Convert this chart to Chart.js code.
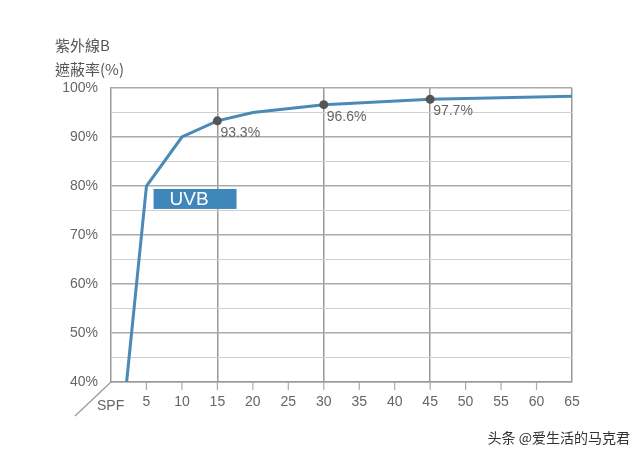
<!DOCTYPE html>
<html><head><meta charset="utf-8">
<script src="https://cdn.jsdelivr.net/npm/chart.js@4"></script>
<style>html,body{margin:0;padding:0;background:#fff}#w{width:640px;height:461px}</style>
</head><body><div id="w"><canvas id="c"></canvas></div>
<script>
const spf = [2.2, 5, 10, 15, 20, 30, 45, 65];
const uvb = [40, 80, 90, 93.3, 95, 96.6, 97.7, 98.3];
const marked = [15, 30, 45];
const markedLabels = ['93.3%', '96.6%', '97.7%'];
const font = '"Liberation Sans", Arial, sans-serif';
const deco = {
  id:'deco',
  beforeDatasetsDraw(ch){
    const c=ch.ctx, x=ch.scales.x, y=ch.scales.y;
    c.save();c.strokeStyle='#aaa';c.lineWidth=1.2;
    for(let v=5;v<65;v+=5){const px=x.getPixelForValue(v);c.beginPath();c.moveTo(px,y.bottom);c.lineTo(px,y.bottom+8);c.stroke();}
    c.restore();
  },
  afterDatasetsDraw(ch){
    const c=ch.ctx, x=ch.scales.x, y=ch.scales.y;
    c.save();
    marked.forEach((m,i)=>{
      const v=uvb[spf.indexOf(m)];
      const px=x.getPixelForValue(m), py=y.getPixelForValue(v);
      c.fillStyle='#555';c.beginPath();c.arc(px,py,4.5,0,Math.PI*2);c.fill();
      c.fillStyle='#666';c.font='14px '+font;c.textAlign='left';c.textBaseline='top';
      c.fillText(markedLabels[i],px+3,py+5);
    });
    const bx=x.getPixelForValue(6), by=y.getPixelForValue(79.4);
    c.fillStyle='#3f86bb';c.fillRect(bx,by,83,20);
    c.fillStyle='#fff';c.font='19px '+font;c.textBaseline='middle';c.textAlign='left';
    c.fillText('UVB',bx+16,by+11);
    c.strokeStyle='#999';c.lineWidth=1.2;c.beginPath();
    c.moveTo(x.left,y.bottom);c.lineTo(75,416);c.stroke();
    c.fillStyle='#666';c.font='14px '+font;c.textAlign='left';c.textBaseline='middle';
    c.fillText('SPF',97,406);
    c.fillStyle='#555';c.font='15px "Noto Sans CJK TC", sans-serif';c.textBaseline='middle';
    c.fillText('紫外線B',55,45);c.fillText('遮蔽率(%)',55,69);
    c.fillStyle='#333';c.font='14px "Noto Sans CJK SC", sans-serif';c.textAlign='right';
    c.fillText('头条 @爱生活的马克君',630,438);
    c.restore();
  }
};
const major = v => v===15||v===30||v===45||v===65;
new Chart(document.getElementById('c'),{
  type:'line',
  data:{datasets:[{data:spf.map((s,i)=>({x:s,y:uvb[i]})),borderColor:'#4a8ab5',borderWidth:3,pointRadius:0,tension:0,fill:false}]},
  options:{responsive:true,maintainAspectRatio:false,animation:false,
    layout:{padding:{top:88,right:68,left:0,bottom:0}},
    plugins:{legend:{display:false},tooltip:{enabled:false}},
    scales:{
      x:{type:'linear',min:0,max:65,afterFit(s){s.height=79;},
        ticks:{stepSize:5,color:'#666',font:{size:14,family:font},padding:12,callback:v=>v===0?'':v},
        grid:{color:c=>major(c.tick&&c.tick.value)?'#999':'rgba(0,0,0,0)',lineWidth:1.5,drawTicks:false},
        border:{color:'#999',width:1.5}},
      y:{min:40,max:100,afterFit(s){s.width=111;},
        ticks:{stepSize:5,color:'#666',font:{size:14,family:font},padding:13,callback:v=>v%10===0?v+'%':''},
        grid:{color:c=>{const v=c.tick&&c.tick.value;return v%10===0?'#aaa':'#d0d0d0';},lineWidth:c=>{const v=c.tick&&c.tick.value;return v%10===0?1.5:1;},drawTicks:false},
        border:{color:'#999',width:1.5}}
    }
  },
  plugins:[deco]
});
</script></body></html>
